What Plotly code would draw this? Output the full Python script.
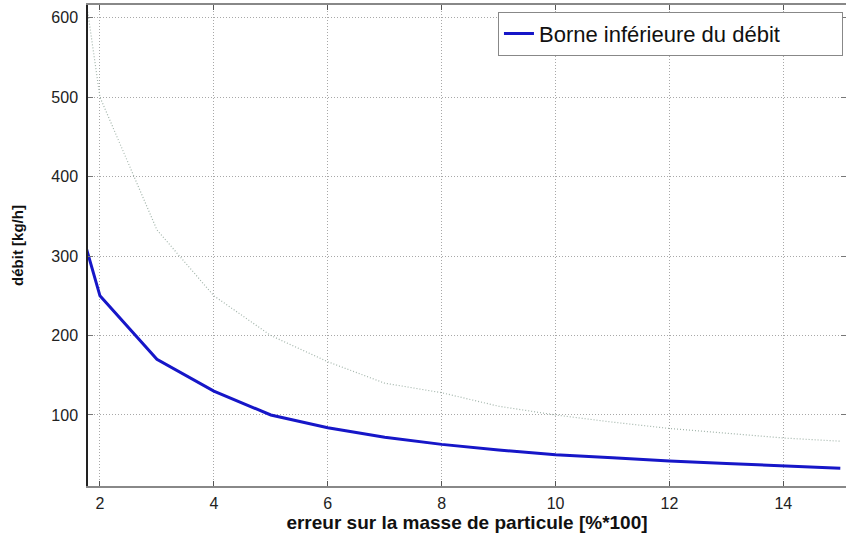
import plotly.graph_objects as go

x_vals = [1, 2, 3, 4, 5, 6, 7, 8, 9, 10, 11, 12, 13, 14, 15]
borne_inf = [500, 250, 170, 130, 100, 84, 72, 63, 56, 50, 46, 42, 39, 36, 33]
reference = [1000, 500, 333, 250, 200, 167, 140, 128, 111, 100, 91, 83, 77, 71, 67]
x_ticks = [2, 4, 6, 8, 10, 12, 14]
y_ticks = [100, 200, 300, 400, 500, 600]

fig = go.Figure()
fig.add_trace(go.Scatter(x=x_vals, y=reference, mode="lines",
                         line=dict(color="#a3b5ab", width=1.2, dash="1px,2px"),
                         showlegend=False, hoverinfo="skip"))
fig.add_trace(go.Scatter(x=x_vals, y=borne_inf, mode="lines",
                         line=dict(color="#1616c8", width=3),
                         name="Borne inférieure du débit"))

font_family = "Liberation Sans, Arial, sans-serif"
fig.update_layout(
    width=846, height=537,
    margin=dict(l=88, r=0, t=5, b=51),
    paper_bgcolor="white", plot_bgcolor="white",
    font=dict(family=font_family, size=16, color="#222222"),
    legend=dict(x=0.996, y=0.986, xanchor="right", yanchor="top",
                orientation="h", entrywidth=298,
                bordercolor="#888888", borderwidth=1, bgcolor="white",
                font=dict(size=22, color="#111111")),
    xaxis=dict(range=[1.79, 15.1], tickvals=x_ticks, automargin=False,
               showgrid=True, gridcolor="#a8a8a8", griddash="1px,2px", gridwidth=1,
               showline=True, linecolor="#888888", linewidth=1.5, mirror="ticks",
               ticks="inside", ticklen=5, tickcolor="#555555",
               zeroline=False, ticklabelstandoff=2,
               title=dict(text="<b>erreur sur la masse de particule [%*100]</b>",
                          font=dict(size=19, color="#111111"), standoff=5)),
    yaxis=dict(range=[10.6, 616], tickvals=y_ticks, automargin=False,
               showgrid=True, gridcolor="#a8a8a8", griddash="1px,2px", gridwidth=1,
               showline=True, linecolor="#222222", linewidth=1.5, mirror="ticks",
               ticks="inside", ticklen=5, tickcolor="#777777",
               zeroline=False, ticklabelstandoff=5,
               title=dict(text="<b>débit [kg/h]</b>",
                          font=dict(size=15, color="#111111"), standoff=24)),
)

fig.write_html("out.html", config={"displayModeBar": False},
               post_script="document.body.style.margin='0';")
